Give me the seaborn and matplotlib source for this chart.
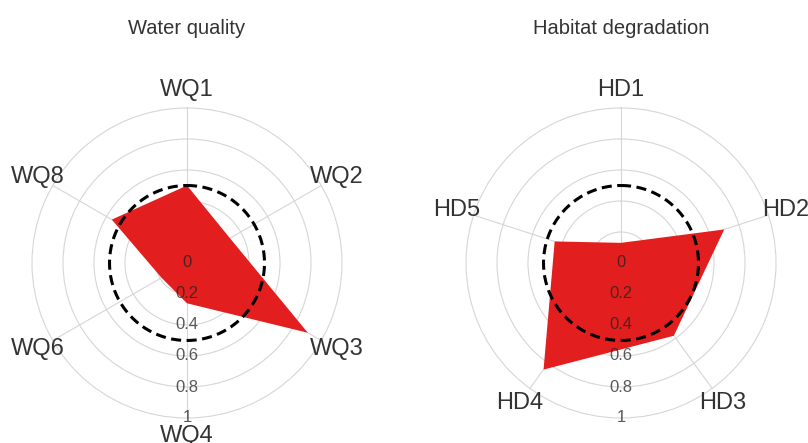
import numpy as np
import matplotlib
matplotlib.use("Agg")
import matplotlib.pyplot as plt
import seaborn as sns

# --- data ---
wq_labels = ["WQ1", "WQ2", "WQ3", "WQ4", "WQ6", "WQ8"]
wq_values = [0.50, 0.32, 0.90, 0.26, 0.19, 0.56]

hd_labels = ["HD1", "HD2", "HD3", "HD4", "HD5"]
hd_values = [0.13, 0.70, 0.58, 0.85, 0.45]

r_ticks = [0, 0.2, 0.4, 0.6, 0.8, 1]
r_tick_labels = ["0", "0.2", "0.4", "0.6", "0.8", "1"]
threshold = 0.5

titles = ["Water quality", "Habitat degradation"]

sns.set_theme(style="white")
plt.rcParams["font.family"] = ["Liberation Sans", "DejaVu Sans"]

FILL = "#e31e1e"
GRID = "#d6d6d6"
TXT = "#333333"

fig = plt.figure(figsize=(8.08, 4.43), dpi=100)


def radar(rect, labels, values, title, title_x):
    ax = fig.add_axes(rect, projection="polar")
    ax.set_theta_offset(np.pi / 2)
    ax.set_theta_direction(-1)
    ax.set_facecolor("none")
    n = len(labels)
    angles = np.linspace(0, 2 * np.pi, n, endpoint=False)

    ax.set_ylim(0, 1)
    ax.set_xticks(angles)
    ax.set_xticklabels([])
    ax.set_yticks(r_ticks[1:-1])
    ax.set_yticklabels([])
    ax.grid(True, color=GRID, linewidth=0.8)
    ax.spines["polar"].set_color(GRID)
    ax.spines["polar"].set_linewidth(0.8)
    ax.tick_params(length=0, pad=0)

    # polygon
    th = np.append(angles, angles[0])
    rr = np.append(values, values[0])
    ax.fill(th, rr, color=FILL, linewidth=0, zorder=3)

    # reference circle
    circ = np.linspace(0, 2 * np.pi, 300)
    sns.lineplot(x=circ, y=np.full_like(circ, threshold), ax=ax, color="black",
                 linewidth=2.2, linestyle=(0, (3.3, 1.8)), sort=False, zorder=4)

    # radial tick labels down the bottom spoke
    for r, lab in zip(r_ticks, r_tick_labels):
        ax.text(np.pi, r, lab, ha="center", va="center", fontsize=12,
                color="#222222", alpha=0.75, zorder=5)

    # category labels
    for a, lab in zip(angles, labels):
        ax.text(a, 1.115, lab, ha="center", va="center", fontsize=17,
                color=TXT, zorder=5)

    fig.text(title_x, 1 - 28 / 443, title, ha="center", va="center",
             fontsize=14.5, color=TXT)
    return ax


radar([32 / 808, 25 / 443, 310 / 808, 310 / 443], wq_labels, wq_values,
      titles[0], 187 / 808)
radar([466 / 808, 25 / 443, 310 / 808, 310 / 443], hd_labels, hd_values,
      titles[1], 621 / 808)

fig.savefig("out.png", dpi=100)
